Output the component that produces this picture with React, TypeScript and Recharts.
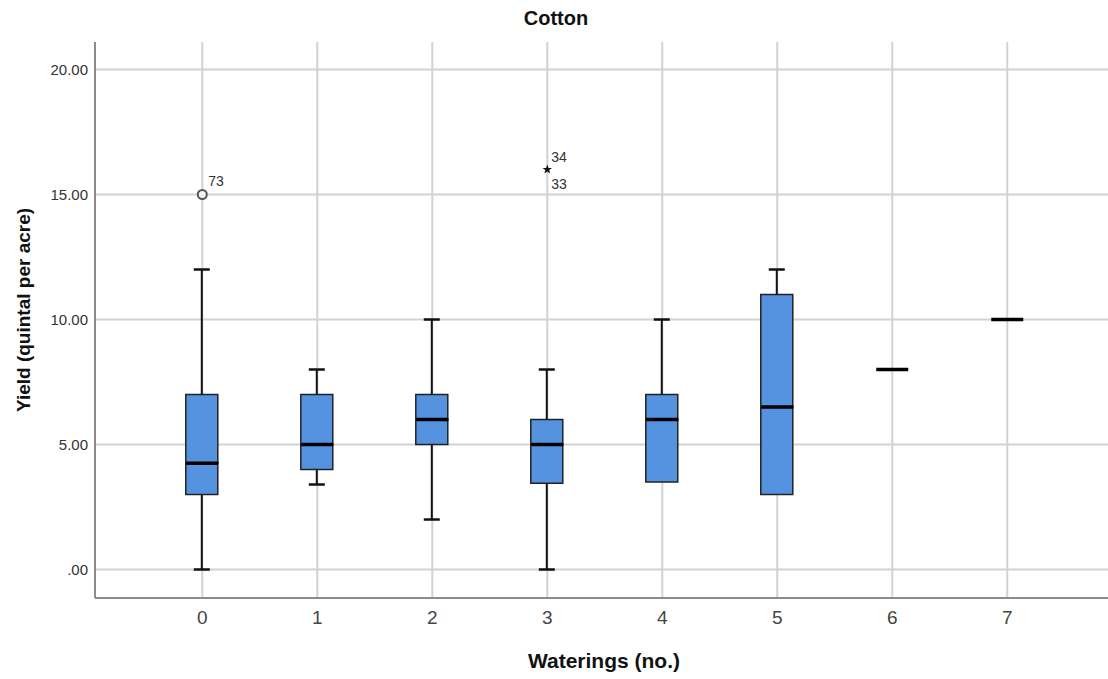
import React from 'react';
import { ComposedChart, Bar, Scatter, XAxis, YAxis, CartesianGrid } from 'recharts';

// ---- data ----
const categories = [0, 1, 2, 3, 4, 5, 6, 7];
const whiskerLow = [0, 3.4, 2, 0, 3.5, 3, 8, 10];
const quartile1 = [3, 4, 5, 3.45, 3.5, 3, 8, 10];
const medians = [4.25, 5, 6, 5, 6, 6.5, 8, 10];
const quartile3 = [7, 7, 7, 6, 7, 11, 8, 10];
const whiskerHigh = [12, 8, 10, 8, 10, 12, 8, 10];

const outlierCategory = [0, 3];
const outlierValue = [15, 16];
const outlierMarker = ['circle', 'star'];
const outlierLabels = [['73'], ['34', '33']];

const yTicks = [0, 5, 10, 15, 20];
const yTickLabels = ['.00', '5.00', '10.00', '15.00', '20.00'];
const xTicks = categories;

const FONT = 'Liberation Sans, Arial, Helvetica, sans-serif';

// table for the stacked range bars
const boxData = categories.map((c, i) => ({
  x: c,
  base: whiskerLow[i],
  lowWhisker: quartile1[i] - whiskerLow[i],
  lowBox: medians[i] - quartile1[i],
  highBox: quartile3[i] - medians[i],
  highWhisker: whiskerHigh[i] - quartile3[i],
}));
const medianData = categories.map((c, i) => ({ x: c, y: medians[i] }));
const outlierData = outlierCategory.map((c, i) => ({
  x: c,
  y: outlierValue[i],
  marker: outlierMarker[i],
  labels: outlierLabels[i],
}));

const LINE = '#111';

const LowerWhisker = (p: any) => {
  const { x, y, width, height } = p;
  if (!height || height < 0.5) return <g />;
  const cx = x + width / 2;
  return (
    <g>
      <line x1={cx} x2={cx} y1={y} y2={y + height} stroke={LINE} strokeWidth={2} />
      <line x1={cx - 8} x2={cx + 8} y1={y + height} y2={y + height} stroke={LINE} strokeWidth={2.5} />
    </g>
  );
};

const UpperWhisker = (p: any) => {
  const { x, y, width, height } = p;
  if (!height || height < 0.5) return <g />;
  const cx = x + width / 2;
  return (
    <g>
      <line x1={cx} x2={cx} y1={y} y2={y + height} stroke={LINE} strokeWidth={2} />
      <line x1={cx - 8} x2={cx + 8} y1={y} y2={y} stroke={LINE} strokeWidth={2.5} />
    </g>
  );
};

const BoxPart = (p: any) => {
  const { x, y, width, height } = p;
  if (!height || height < 0.5) return <g />;
  return <rect x={x} y={y} width={width} height={height} fill="#5592E0" stroke="#222" strokeWidth={1.5} />;
};

const MedianShape = (p: any) => {
  const { cx, cy } = p;
  return <line x1={cx - 16} x2={cx + 16} y1={cy} y2={cy} stroke="#000" strokeWidth={3.5} />;
};

const OutlierShape = (p: any) => {
  const { cx, cy, payload } = p;
  const labels: string[] = payload.labels;
  if (payload.marker === 'circle') {
    return (
      <g>
        <circle cx={cx} cy={cy} r={4.5} fill="#f2f2f2" stroke="#555" strokeWidth={2} />
        <text x={cx + 6} y={cy - 9} fontSize={14} fill="#333" fontFamily={FONT}>{labels[0]}</text>
      </g>
    );
  }
  const pts: string[] = [];
  for (let k = 0; k < 10; k++) {
    const r = k % 2 === 0 ? 5 : 2;
    const a = -Math.PI / 2 + (k * Math.PI) / 5;
    pts.push(`${cx + r * Math.cos(a)},${cy + r * Math.sin(a)}`);
  }
  return (
    <g>
      <polygon points={pts.join(' ')} fill="#111" />
      <text x={cx + 4} y={cy - 8} fontSize={14} fill="#333" fontFamily={FONT}>{labels[0]}</text>
      <text x={cx + 4} y={cy + 19} fontSize={14} fill="#333" fontFamily={FONT}>{labels[1]}</text>
    </g>
  );
};

const YTitle = () => (
  <text
    x={30}
    y={310}
    transform="rotate(-90, 30, 310)"
    textAnchor="middle"
    fontSize={19}
    fontWeight="bold"
    fill="#111"
    fontFamily={FONT}
  >
    Yield (quintal per acre)
  </text>
);

const XTitle = () => (
  <text x={604} y={668} textAnchor="middle" fontSize={21} fontWeight="bold" fill="#111" fontFamily={FONT}>
    Waterings (no.)
  </text>
);

export default function App() {
  return (
    <div style={{ position: 'absolute', left: 0, top: 0, width: 1108, height: 679, background: '#fff' }}>
      <svg
        width={1108}
        height={40}
        style={{ position: 'absolute', left: 0, top: 0, pointerEvents: 'none' }}
      >
        <text x={556} y={25} textAnchor="middle" fontSize={20} fontWeight="bold" fill="#111" fontFamily={FONT}>
          Cotton
        </text>
      </svg>
      <ComposedChart
        width={1108}
        height={679}
        data={boxData}
        margin={{ top: 42, right: 0, left: 0, bottom: 0 }}
      >
        <CartesianGrid stroke="#d2d2d2" strokeWidth={2} horizontal vertical syncWithTicks />
        <XAxis
          dataKey="x"
          type="number"
          domain={[-0.933, 7.876]}
          allowDataOverflow
          ticks={xTicks}
          height={81}
          tickLine={false}
          tickSize={0}
          tickMargin={13}
          axisLine={{ stroke: '#8c8c8c', strokeWidth: 2 }}
          tick={{ fontSize: 19, fill: '#444', fontFamily: FONT }}
          label={<XTitle />}
        />
        <YAxis
          type="number"
          domain={[-1.14, 21.1]}
          allowDataOverflow
          ticks={yTicks}
          width={95}
          tickLine={false}
          tickSize={0}
          tickMargin={7}
          axisLine={{ stroke: '#8c8c8c', strokeWidth: 2 }}
          tick={{ fontSize: 15, fill: '#333', fontFamily: FONT }}
          tickFormatter={(v: number) => yTickLabels[yTicks.indexOf(v)] ?? String(v)}
          label={<YTitle />}
        />
        <Bar dataKey="base" stackId="box" barSize={32} fill="transparent" isAnimationActive={false} />
        <Bar dataKey="lowWhisker" stackId="box" barSize={32} shape={LowerWhisker} isAnimationActive={false} />
        <Bar dataKey="lowBox" stackId="box" barSize={32} shape={BoxPart} isAnimationActive={false} />
        <Bar dataKey="highBox" stackId="box" barSize={32} shape={BoxPart} isAnimationActive={false} />
        <Bar dataKey="highWhisker" stackId="box" barSize={32} shape={UpperWhisker} isAnimationActive={false} />
        <Scatter data={medianData} dataKey="y" shape={MedianShape} isAnimationActive={false} />
        <Scatter data={outlierData} dataKey="y" shape={OutlierShape} isAnimationActive={false} />
      </ComposedChart>
    </div>
  );
}
